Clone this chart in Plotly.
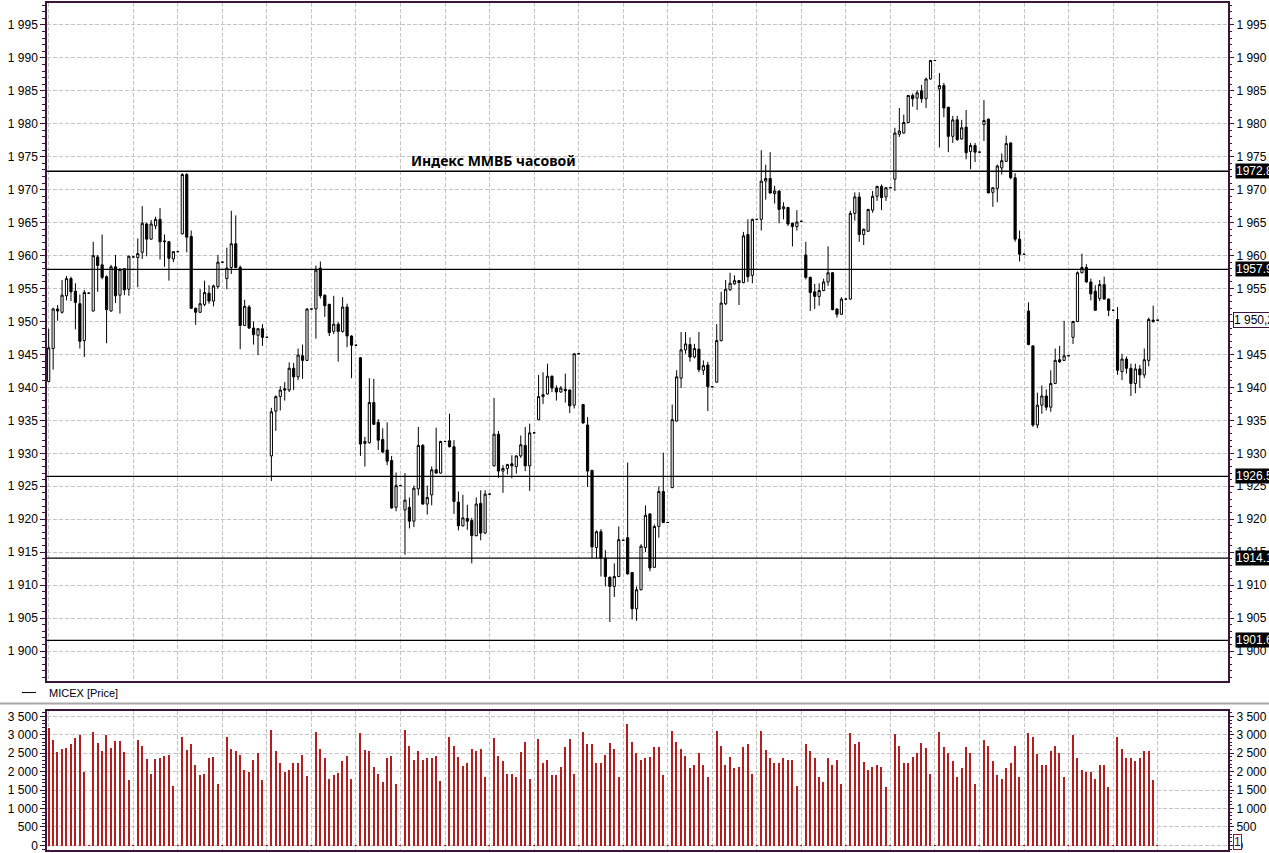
import plotly.graph_objects as go

# hourly MICEX index candles, 25 sessions x 10 slots (9 bars + closing tick)
OPEN = [
    1940.9, 1945.9, 1951.9, 1951.4, 1953.9, 1956.5, 1954.6, 1952.7, 1947.1, 1954.3,
    1951.6, 1959.8, 1958.6, 1956.8, 1951.6, 1958.3, 1954.0, 1958.0, 1954.9, 1959.8,
    1959.7, 1960.5, 1964.8, 1962.5, 1964.5, 1965.5, 1962.1, 1962.1, 1959.5, 1960.6,
    1963.3, 1972.3, 1962.9, 1952.0, 1951.4, 1952.6, 1954.3, 1953.1, 1955.3, 1959.0,
    1956.5, 1958.2, 1961.8, 1958.2, 1949.4, 1952.2, 1949.0, 1947.9, 1948.9, 1947.6,
    1929.6, 1936.4, 1938.6, 1939.8, 1939.6, 1942.9, 1941.6, 1944.8, 1944.1, 1951.9,
    1951.9, 1958.1, 1954.0, 1952.6, 1948.5, 1949.6, 1948.5, 1952.2, 1947.8, 1946.4,
    1944.5, 1931.5, 1931.6, 1937.7, 1934.7, 1932.1, 1930.5, 1928.9, 1921.8, 1925.1,
    1921.4, 1921.8, 1919.7, 1924.6, 1931.2, 1922.3, 1923.7, 1927.5, 1927.0, 1931.8,
    1931.9, 1931.0, 1922.6, 1919.0, 1920.1, 1919.8, 1917.5, 1922.4, 1917.9, 1923.8,
    1928.1, 1932.9, 1927.3, 1927.7, 1928.4, 1928.0, 1929.6, 1931.2, 1928.1, 1933.1,
    1935.1, 1938.6, 1939.0, 1941.7, 1939.9, 1939.3, 1939.7, 1939.6, 1937.3, 1945.1,
    1937.4, 1934.3, 1927.4, 1915.7, 1918.1, 1914.1, 1911.2, 1909.8, 1911.3, 1916.8,
    1917.2, 1911.9, 1906.4, 1909.3, 1915.7, 1920.8, 1912.7, 1918.9, 1924.2, 1919.5,
    1924.8, 1934.9, 1941.4, 1945.7, 1946.5, 1944.6, 1945.8, 1942.6, 1943.4, 1940.1,
    1940.8, 1947.1, 1952.7, 1954.8, 1955.7, 1956.2, 1955.9, 1963.2, 1957.0, 1965.5,
    1965.5, 1971.3, 1971.7, 1969.4, 1969.8, 1967.1, 1967.3, 1964.9, 1964.4, 1965.2,
    1960.1, 1956.7, 1954.5, 1953.8, 1954.7, 1956.0, 1957.4, 1951.9, 1951.1, 1953.4,
    1953.4, 1966.4, 1968.9, 1963.2, 1963.7, 1966.9, 1969.0, 1970.5, 1968.9, 1970.3,
    1971.6, 1978.4, 1978.6, 1980.2, 1984.3, 1983.9, 1985.0, 1983.8, 1986.8, 1989.6,
    1985.3, 1985.8, 1982.5, 1978.1, 1980.6, 1977.7, 1979.5, 1975.8, 1976.7, 1975.7,
    1979.9, 1980.7, 1969.6, 1970.2, 1973.3, 1974.3, 1977.1, 1971.8, 1962.5, 1960.2,
    1951.6, 1946.3, 1934.3, 1937.3, 1938.7, 1937.0, 1940.6, 1944.2, 1944.1, 1944.8,
    1947.6, 1950.0, 1957.4, 1958.2, 1956.0, 1954.6, 1953.5, 1955.6, 1953.4, 1951.7,
    1950.3, 1942.4, 1944.3, 1942.9, 1940.6, 1942.8, 1941.9, 1944.1, 1950.0, 1950.2,
]
HIGH = [
    1948.9, 1952.1, 1952.5, 1956.3, 1956.9, 1956.8, 1955.8, 1954.1, 1954.8, 1954.3,
    1962.1, 1960.1, 1963.2, 1957.0, 1958.6, 1960.1, 1958.1, 1958.1, 1960.0, 1959.8,
    1962.6, 1967.5, 1965.0, 1965.4, 1965.9, 1967.2, 1963.2, 1962.2, 1960.7, 1960.6,
    1972.5, 1972.5, 1963.8, 1952.1, 1954.9, 1956.2, 1955.5, 1955.6, 1960.1, 1959.0,
    1961.2, 1966.8, 1966.1, 1958.5, 1953.3, 1952.5, 1950.0, 1949.0, 1949.6, 1947.6,
    1936.9, 1938.8, 1940.2, 1940.8, 1943.8, 1943.7, 1945.9, 1946.5, 1952.0, 1951.9,
    1958.5, 1959.1, 1954.1, 1952.7, 1953.9, 1949.9, 1953.7, 1952.7, 1947.9, 1946.4,
    1944.6, 1932.5, 1941.4, 1941.3, 1935.2, 1933.8, 1934.7, 1929.6, 1927.1, 1925.1,
    1927.0, 1923.3, 1925.1, 1934.0, 1931.4, 1925.1, 1928.0, 1933.9, 1931.9, 1931.8,
    1936.0, 1932.0, 1924.2, 1923.7, 1922.2, 1920.2, 1923.3, 1924.4, 1924.4, 1923.8,
    1938.4, 1933.4, 1928.2, 1928.4, 1929.7, 1929.7, 1932.7, 1934.0, 1934.5, 1933.1,
    1941.9, 1942.3, 1943.6, 1941.8, 1940.3, 1940.2, 1942.1, 1939.7, 1945.2, 1945.1,
    1937.5, 1935.5, 1927.5, 1918.3, 1918.5, 1915.3, 1911.3, 1913.3, 1918.9, 1916.8,
    1928.6, 1912.0, 1909.8, 1916.2, 1922.1, 1920.9, 1919.2, 1925.0, 1930.1, 1919.5,
    1937.4, 1942.6, 1948.4, 1948.4, 1947.6, 1946.6, 1948.4, 1944.1, 1943.9, 1940.1,
    1949.6, 1954.5, 1956.3, 1957.4, 1957.0, 1956.3, 1963.6, 1965.5, 1965.6, 1965.5,
    1976.0, 1973.8, 1975.7, 1970.6, 1969.9, 1968.1, 1967.4, 1965.0, 1966.9, 1965.2,
    1962.1, 1956.8, 1955.7, 1955.8, 1956.5, 1961.4, 1957.5, 1952.0, 1953.7, 1953.4,
    1966.8, 1969.6, 1969.6, 1964.1, 1967.1, 1969.8, 1970.6, 1970.8, 1970.4, 1970.3,
    1979.4, 1982.4, 1981.4, 1984.4, 1984.6, 1985.1, 1985.9, 1987.0, 1989.7, 1989.6,
    1987.7, 1986.2, 1982.6, 1981.2, 1981.2, 1980.6, 1982.1, 1977.1, 1977.1, 1975.7,
    1983.6, 1980.8, 1970.3, 1973.8, 1975.5, 1978.2, 1977.2, 1972.5, 1963.8, 1960.2,
    1952.9, 1946.4, 1939.2, 1940.3, 1939.7, 1942.6, 1945.9, 1946.3, 1950.1, 1944.8,
    1950.1, 1957.6, 1960.3, 1958.7, 1956.5, 1955.5, 1956.3, 1956.8, 1953.5, 1951.7,
    1952.2, 1945.1, 1944.7, 1943.6, 1943.6, 1943.4, 1945.9, 1950.6, 1952.4, 1950.2,
]
LOW = [
    1940.8, 1942.7, 1950.1, 1951.2, 1953.2, 1953.1, 1948.8, 1945.9, 1944.6, 1954.3,
    1951.5, 1954.5, 1956.4, 1946.7, 1951.5, 1952.8, 1951.2, 1954.0, 1953.9, 1959.8,
    1955.2, 1959.5, 1959.9, 1962.4, 1964.0, 1959.4, 1958.3, 1956.2, 1959.0, 1960.6,
    1963.2, 1960.5, 1951.9, 1949.5, 1951.3, 1952.3, 1952.7, 1952.3, 1955.0, 1959.0,
    1954.9, 1957.2, 1958.1, 1945.8, 1949.3, 1948.9, 1946.5, 1944.9, 1946.3, 1947.6,
    1925.8, 1933.4, 1936.5, 1938.0, 1939.3, 1939.6, 1941.1, 1941.3, 1944.0, 1951.9,
    1947.4, 1953.5, 1950.7, 1947.8, 1948.1, 1943.9, 1948.3, 1946.1, 1941.4, 1946.4,
    1929.6, 1928.0, 1931.5, 1934.3, 1930.5, 1930.0, 1928.2, 1921.6, 1921.2, 1925.1,
    1914.6, 1918.6, 1918.8, 1923.6, 1922.2, 1920.7, 1922.1, 1926.9, 1926.9, 1931.8,
    1930.9, 1920.8, 1918.3, 1918.9, 1918.4, 1913.3, 1917.4, 1916.8, 1917.8, 1923.8,
    1928.0, 1926.3, 1924.0, 1926.8, 1926.2, 1926.9, 1929.3, 1927.3, 1924.3, 1933.1,
    1935.0, 1937.5, 1938.9, 1939.3, 1938.0, 1939.2, 1937.7, 1936.1, 1936.8, 1945.1,
    1934.5, 1924.9, 1914.1, 1914.1, 1911.3, 1909.8, 1904.4, 1908.2, 1911.2, 1916.8,
    1911.6, 1904.8, 1904.6, 1909.2, 1915.0, 1912.1, 1912.6, 1917.2, 1919.4, 1919.5,
    1924.7, 1934.8, 1939.9, 1945.1, 1943.9, 1944.4, 1942.3, 1941.9, 1936.4, 1940.1,
    1940.7, 1947.0, 1952.5, 1954.7, 1955.6, 1952.5, 1955.8, 1956.0, 1955.8, 1965.5,
    1963.8, 1968.5, 1969.4, 1967.9, 1964.9, 1965.5, 1964.5, 1961.4, 1963.8, 1965.2,
    1956.4, 1951.6, 1951.9, 1952.4, 1954.6, 1955.4, 1951.7, 1950.6, 1951.0, 1953.4,
    1953.3, 1965.3, 1962.1, 1961.6, 1963.6, 1966.5, 1968.3, 1966.9, 1968.3, 1970.3,
    1969.8, 1978.0, 1978.5, 1980.1, 1982.6, 1982.1, 1983.2, 1982.4, 1986.7, 1989.6,
    1976.4, 1981.0, 1975.7, 1977.1, 1977.4, 1977.6, 1974.6, 1973.1, 1974.2, 1975.7,
    1977.4, 1969.5, 1967.4, 1968.1, 1972.3, 1974.2, 1971.6, 1962.1, 1959.1, 1960.2,
    1946.4, 1934.0, 1933.8, 1936.0, 1936.5, 1936.3, 1940.5, 1943.7, 1944.0, 1944.8,
    1946.6, 1949.9, 1957.3, 1955.9, 1953.2, 1951.7, 1953.1, 1953.3, 1950.8, 1951.7,
    1941.9, 1941.1, 1942.1, 1938.7, 1939.1, 1939.9, 1941.4, 1943.2, 1949.8, 1950.2,
]
CLOSE = [
    1946.0, 1951.9, 1951.6, 1954.0, 1956.5, 1954.5, 1952.9, 1947.0, 1954.4, 1954.3,
    1960.0, 1958.5, 1956.7, 1951.8, 1958.3, 1953.9, 1957.9, 1954.8, 1959.9, 1959.8,
    1960.3, 1964.9, 1962.5, 1964.8, 1965.5, 1962.1, 1962.2, 1959.6, 1960.6, 1960.6,
    1972.3, 1962.8, 1952.0, 1951.4, 1952.7, 1954.4, 1953.1, 1955.4, 1959.0, 1959.0,
    1958.1, 1961.8, 1958.2, 1949.4, 1952.3, 1949.0, 1948.0, 1948.9, 1947.6, 1947.6,
    1936.3, 1938.6, 1939.6, 1939.6, 1942.9, 1941.6, 1944.9, 1944.1, 1951.9, 1951.9,
    1957.8, 1953.9, 1952.4, 1948.3, 1949.6, 1948.5, 1952.2, 1947.8, 1946.4, 1946.4,
    1931.4, 1931.8, 1937.7, 1934.4, 1932.0, 1930.2, 1928.8, 1921.7, 1925.1, 1925.1,
    1922.9, 1919.7, 1924.7, 1931.2, 1922.3, 1923.3, 1927.5, 1927.0, 1931.8, 1931.8,
    1931.0, 1922.7, 1919.0, 1920.2, 1919.7, 1917.5, 1922.3, 1917.9, 1923.8, 1923.8,
    1932.9, 1927.3, 1927.7, 1928.3, 1928.1, 1929.6, 1931.3, 1928.1, 1933.1, 1933.1,
    1938.6, 1938.9, 1941.7, 1939.9, 1939.3, 1939.9, 1939.5, 1937.2, 1945.1, 1945.1,
    1934.6, 1927.3, 1915.8, 1918.1, 1914.1, 1911.3, 1909.8, 1911.3, 1916.9, 1916.8,
    1911.7, 1906.4, 1909.3, 1915.9, 1920.6, 1912.6, 1918.9, 1924.2, 1919.5, 1919.5,
    1935.1, 1941.6, 1945.7, 1946.6, 1944.6, 1945.9, 1942.7, 1943.3, 1940.1, 1940.1,
    1947.1, 1952.8, 1954.9, 1955.8, 1956.2, 1955.9, 1963.0, 1956.8, 1965.5, 1965.5,
    1971.3, 1971.7, 1969.5, 1969.8, 1967.0, 1967.4, 1964.8, 1964.4, 1965.1, 1965.2,
    1956.7, 1954.4, 1953.8, 1954.7, 1956.0, 1957.4, 1951.8, 1951.1, 1953.4, 1953.4,
    1966.4, 1968.9, 1963.2, 1964.0, 1967.0, 1969.0, 1970.5, 1968.8, 1970.3, 1970.3,
    1978.6, 1978.9, 1980.2, 1984.3, 1983.8, 1984.7, 1983.8, 1986.8, 1989.6, 1989.6,
    1985.8, 1982.4, 1978.1, 1980.6, 1977.6, 1979.4, 1975.6, 1976.7, 1975.7, 1975.7,
    1980.5, 1969.5, 1970.3, 1973.6, 1974.4, 1977.0, 1971.8, 1962.5, 1960.2, 1960.2,
    1946.5, 1934.3, 1937.3, 1938.7, 1937.0, 1940.6, 1944.1, 1943.9, 1944.8, 1944.8,
    1950.0, 1957.4, 1958.2, 1956.0, 1954.2, 1951.7, 1955.6, 1953.4, 1951.7, 1951.7,
    1942.6, 1944.3, 1942.9, 1940.6, 1942.8, 1941.9, 1944.2, 1950.3, 1950.2, 1950.2,
]
VOLUME = [
    3200, 2860, 2550, 2630, 2660, 2770, 2930, 2995, 1985, 1,
    3095, 2795, 2570, 2995, 2660, 2840, 2840, 2550, 1785, 1,
    2875, 2705, 2345, 1940, 2345, 2370, 2425, 2470, 1625, 1,
    2960, 2590, 2750, 2175, 1910, 1955, 2390, 2415, 1685, 1,
    2960, 2635, 2555, 2470, 2065, 2010, 2335, 2515, 1775, 1,
    3150, 2570, 2230, 1985, 2065, 2255, 2255, 2470, 1885, 1,
    3095, 2635, 2390, 1805, 1905, 1975, 2310, 2445, 1820, 1,
    3065, 2605, 2555, 2120, 1930, 1715, 2365, 2445, 1685, 1,
    3150, 2715, 2335, 2580, 2335, 2365, 2365, 2435, 1760, 1,
    2950, 2705, 2410, 2165, 2245, 2635, 2580, 2635, 1850, 1,
    2920, 2435, 2300, 1955, 1930, 1850, 2545, 2825, 1820, 1,
    2895, 2255, 2335, 1905, 1905, 2145, 2690, 2905, 1930, 1,
    3095, 2770, 2770, 2255, 2230, 2470, 2795, 2635, 1875, 1,
    3290, 2825, 2525, 2335, 2390, 2415, 2690, 2690, 1905, 1,
    3120, 2825, 2635, 2445, 2095, 2175, 2525, 2175, 1850, 1,
    3120, 2715, 2175, 2415, 2095, 2120, 2690, 2770, 1955, 1,
    3120, 2605, 2390, 2230, 2230, 2390, 2335, 2335, 1605, 1,
    2770, 2580, 2365, 1850, 1715, 2390, 2175, 2335, 1685, 1,
    3065, 2770, 2825, 2280, 2040, 2145, 2175, 2145, 1580, 1,
    3040, 2715, 2255, 2230, 2415, 2525, 2795, 2660, 1930, 1,
    3095, 2690, 2525, 2310, 1875, 2095, 2690, 2525, 1660, 1,
    2875, 2715, 2310, 1905, 1795, 2095, 2230, 2715, 1875, 1,
    3065, 2960, 2500, 2200, 2200, 2580, 2715, 2515, 1875, 1,
    3005, 2370, 2040, 2010, 1985, 1795, 2175, 2200, 1580, 1,
    2960, 2635, 2365, 2390, 2310, 2390, 2555, 2580, 1770, 1,
]
SLOTS = list(range(len(OPEN)))

# support / resistance levels and their tags
LEVELS = [1972.8, 1957.9, 1926.5, 1914.1, 1901.6]
LAST_PRICE = 1950.2
LAST_VOLUME = 1

# day separators drawn as vertical grid lines
DAY_GRID = [0] + list(range(19, len(OPEN), 10))

TITLE = "Индекс ММВБ часовой"
LEGEND_TEXT = "MICEX [Price]"

AXIS = "#3a143a"
GRID = "#c4c4c4"
FONT = "Liberation Sans"

fig = go.Figure()

fig.add_trace(
    go.Candlestick(
        x=SLOTS,
        open=OPEN,
        high=HIGH,
        low=LOW,
        close=CLOSE,
        increasing=dict(line=dict(color="black", width=1), fillcolor="white"),
        decreasing=dict(line=dict(color="black", width=1), fillcolor="black"),
        whiskerwidth=0,
        showlegend=False,
        hoverinfo="skip",
        xaxis="x",
        yaxis="y",
    )
)

fig.add_trace(
    go.Bar(
        x=SLOTS,
        y=VOLUME,
        width=0.3,
        marker=dict(color="#b41e1e", line=dict(width=0)),
        showlegend=False,
        hoverinfo="skip",
        xaxis="x2",
        yaxis="y2",
    )
)

# empty helpers so the right-hand axes get drawn
fig.add_trace(go.Scatter(x=[0], y=[1950], mode="markers", marker=dict(opacity=0),
                         showlegend=False, hoverinfo="skip", xaxis="x", yaxis="y3"))
fig.add_trace(go.Scatter(x=[0], y=[0], mode="markers", marker=dict(opacity=0),
                         showlegend=False, hoverinfo="skip", xaxis="x2", yaxis="y4"))

x_range = [-0.38, 264.8]
price_range = [1895.51, 1998.33]
vol_range = [-127, 3654]

xcommon = dict(
    range=x_range,
    tickmode="array",
    tickvals=DAY_GRID,
    showticklabels=False,
    ticks="",
    showgrid=True,
    gridcolor=GRID,
    griddash="4px,2px",
    gridwidth=1,
    showline=True,
    mirror=True,
    linecolor=AXIS,
    linewidth=1.5,
    zeroline=False,
)

def ycommon(rng, dtick, minor, tick0):
    return dict(
        range=rng,
        tick0=tick0,
        dtick=dtick,
        tickformat=",d",
        ticks="outside",
        ticklen=5,
        tickcolor=AXIS,
        tickfont=dict(family=FONT, size=12, color="black"),
        ticklabeloverflow="allow",
        minor=dict(dtick=minor, ticks="outside", ticklen=3, tickcolor=AXIS, showgrid=False),
        zeroline=False,
    )

fig.update_layout(
    width=1269,
    height=853,
    margin=dict(l=47, r=41, t=3, b=0),
    paper_bgcolor="white",
    plot_bgcolor="white",
    separators=", ",
    showlegend=False,
    bargap=0,
    xaxis=dict(domain=[0, 1], anchor="y", rangeslider=dict(visible=False), **xcommon),
    xaxis2=dict(domain=[0, 1], anchor="y2", **xcommon),
    yaxis=dict(domain=[0.2, 1], anchor="x", showgrid=True, gridcolor=GRID, griddash="4px,2px",
               showline=True, mirror=True, linecolor=AXIS, linewidth=1.5,
               **ycommon(price_range, 5, 1, 1900)),
    yaxis3=dict(overlaying="y", side="right", anchor="x", showgrid=False,
                **ycommon(price_range, 5, 1, 1900)),
    yaxis2=dict(domain=[0, 0.1644], anchor="x2", showgrid=True, gridcolor=GRID, griddash="4px,2px",
                showline=True, mirror=True, linecolor=AXIS, linewidth=1.5,
                **ycommon(vol_range, 500, 100, 0)),
    yaxis4=dict(overlaying="y2", side="right", anchor="x2", showgrid=False,
                **ycommon(vol_range, 500, 100, 0)),
)

for lvl in LEVELS:
    fig.add_shape(type="line", xref="paper", yref="y", x0=0, x1=1, y0=lvl, y1=lvl,
                  line=dict(color="black", width=1.3))
    fig.add_annotation(xref="paper", yref="y", x=1.0059, y=lvl, xanchor="left", yanchor="middle",
                       text=f"{lvl:.1f}", showarrow=False, bgcolor="black", borderpad=0,
                       font=dict(family=FONT, size=12, color="white"))

fig.add_annotation(xref="paper", yref="y", x=1.0042, y=LAST_PRICE, xanchor="left", yanchor="middle",
                   text=f"{LAST_PRICE:,.1f}".replace(",", " ").replace(".", ","),
                   showarrow=False, bgcolor="white", bordercolor=AXIS, borderwidth=1, borderpad=0,
                   font=dict(family=FONT, size=12, color="black"))

fig.add_annotation(xref="paper", yref="y2", x=1.0042, y=90, xanchor="left", yanchor="middle",
                   text=str(LAST_VOLUME), showarrow=False, bgcolor="white", bordercolor="#8b1a1a",
                   borderwidth=1, borderpad=0, font=dict(family=FONT, size=12, color="#3a143a"))

fig.add_annotation(xref="x", yref="y", x=99.8, y=1974.5, text=f"<b>{TITLE}</b>", showarrow=False,
                   font=dict(family="Noto Sans", size=14, color="black"))

# legend strip between the panels
fig.add_shape(type="line", xref="paper", yref="paper", x0=-0.0212, x1=-0.0093, y0=0.1859, y1=0.1859,
              line=dict(color="black", width=1))
fig.add_annotation(xref="paper", yref="paper", x=0.0, y=0.1859, xanchor="left", yanchor="middle",
                   text=LEGEND_TEXT, showarrow=False, font=dict(family=FONT, size=11, color="black"))
fig.add_shape(type="line", xref="paper", yref="paper", x0=-0.05, x1=1.05, y0=0.1729, y1=0.1729,
              line=dict(color="#a8a8a8", width=2))

# the page's default body margin would shift the chart by 8px
fig.write_html("out.html", config={"displayModeBar": False},
               post_script="document.body.style.margin='0';")
